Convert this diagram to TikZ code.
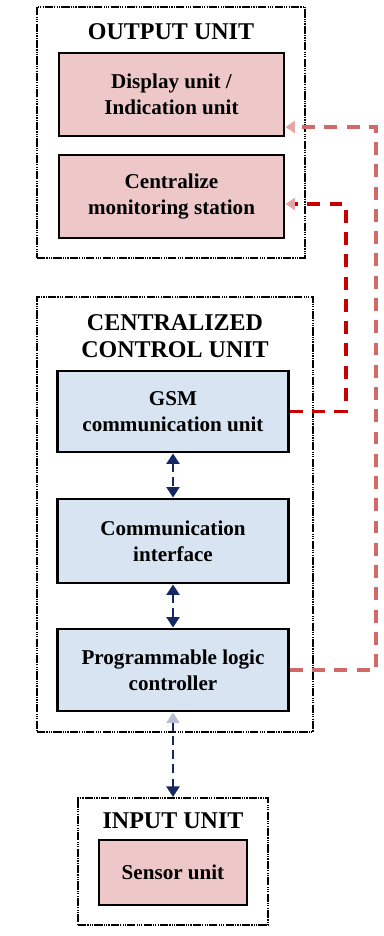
\documentclass[tikz,border=0pt]{standalone}
\usepackage{fontspec}
\setmainfont{Liberation Serif}
\usetikzlibrary{arrows.meta,positioning}
\definecolor{pinkf}{RGB}{238,200,200}
\definecolor{bluef}{RGB}{216,228,242}
\definecolor{navyc}{RGB}{20,40,100}
\definecolor{redd}{RGB}{200,0,0}
\definecolor{redl}{RGB}{210,105,105}

\begin{document}
\begin{tikzpicture}[x=0.03cm,y=-0.03cm,font=\bfseries\fontsize{18}{22}\selectfont,
 grp/.style={draw,line width=1.7pt,dash pattern=on 7pt off 1pt on 1pt off 1pt on 1pt off 1pt on 1pt off 1pt},
 ttl/.style={font=\bfseries\fontsize{20.5}{23}\selectfont,align=center},
 box/.style={draw,line width=2.4pt,align=center,minimum width=6.93cm,minimum height=2.45cm},
 pk/.style={box,fill=pinkf},
 bl/.style={box,fill=bluef},
 ar/.style={navyc,line width=2.2pt,dash pattern=on 7pt off 5pt},
 rd/.style={line width=2.8pt,dash pattern=on 11pt off 8pt,-{Triangle[width=10pt,length=8pt,color=redl!60]}}]
\useasboundingbox (0,0) rectangle (383,936);
% output unit
\node[grp,minimum width=8.04cm,minimum height=7.53cm](out) at (171,132.5){};
\node[ttl](outt) at (171,32){OUTPUT UNIT};
\node[pk,minimum width=6.75cm,minimum height=2.49cm](disp) at (171.5,94.5){Display unit /\\Indication unit};
\node[pk,minimum width=6.75cm,minimum height=2.49cm](cms) at (171.5,196.5){Centralize\\monitoring station};
% centralized control unit
\node[grp,minimum width=8.28cm,minimum height=13.05cm](ccu) at (175,514.5){};
\node[ttl](ccut) at (175,336){CENTRALIZED\\CONTROL UNIT};
\node[bl,minimum height=2.43cm](gsm) at (173,411.5){GSM\\communication unit};
\node[bl,minimum height=2.52cm](ci) at (173,541){Communication\\interface};
\node[bl,minimum height=2.46cm](plc) at (173,670){Programmable logic\\controller};
% input unit
\node[grp,minimum width=5.7cm,minimum height=3.81cm](inp) at (173,861.5){};
\node[ttl](inpt) at (173,821){INPUT UNIT};
\node[pk,minimum width=4.44cm,minimum height=1.95cm](sen) at (173,872.5){Sensor unit};
% links
\draw[ar,{Triangle[width=11pt,length=9pt]}-{Triangle[width=11pt,length=9pt]}](gsm)--(ci);
\draw[ar,{Triangle[width=11pt,length=9pt]}-{Triangle[width=11pt,length=9pt]}](ci)--(plc);
\draw[ar,{Triangle[width=11pt,length=9pt,color=navyc!30]}-{Triangle[width=11pt,length=9pt]}](plc)--(inp);
\coordinate (r1) at (376,127);
\coordinate (r2) at (346,204);
\draw[rd,redl](plc.east)-|(r1)--(disp.east|-r1);
\draw[rd,redd](gsm.east)-|(r2)--(cms.east|-r2);
\end{tikzpicture}
\end{document}
